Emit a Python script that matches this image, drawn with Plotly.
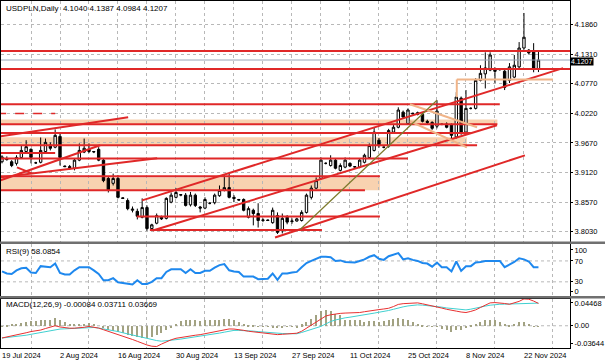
import plotly.graph_objects as go

# ---------------- data ----------------
label_idx = [0, 12, 24, 36, 48, 60, 72, 84, 96, 108]
label_txt = ['19 Jul 2024', '2 Aug 2024', '16 Aug 2024', '30 Aug 2024', '13 Sep 2024',
             '27 Sep 2024', '11 Oct 2024', '25 Oct 2024', '8 Nov 2024', '22 Nov 2024']

opens = [3.932, 3.938, 3.932, 3.929, 3.940, 3.951, 3.955, 3.930, 3.931, 3.951,
         3.963, 3.959, 3.979, 3.924, 3.923, 3.920, 3.935, 3.950, 3.955, 3.950,
         3.955, 3.935, 3.901, 3.892, 3.901, 3.865, 3.860, 3.842, 3.840, 3.829,
         3.847, 3.808, 3.818, 3.829, 3.827, 3.857, 3.866, 3.870, 3.870, 3.852,
         3.870, 3.848, 3.846, 3.855, 3.856, 3.869, 3.879, 3.884, 3.866, 3.862,
         3.862, 3.829, 3.842, 3.836, 3.823, 3.824, 3.819, 3.832, 3.804, 3.829,
         3.821, 3.822, 3.823, 3.838, 3.866, 3.883, 3.901, 3.929, 3.925, 3.935,
         3.916, 3.922, 3.929, 3.922, 3.922, 3.931, 3.940, 3.953, 3.972, 3.959,
         3.961, 3.987, 3.996, 4.024, 4.003, 4.022, 4.023, 4.020, 4.007, 4.005,
         3.998, 4.002, 4.002, 4.000, 3.978, 4.050, 3.987, 4.031, 4.031, 4.083,
         4.095, 4.102, 4.102, 4.103, 4.100, 4.083, 4.089, 4.108, 4.143, 4.139,
         4.137, 4.1040]
highs = [3.944, 3.942, 3.935, 3.944, 3.962, 3.972, 3.957, 3.932, 3.977, 3.975,
         3.968, 3.992, 3.985, 3.925, 3.926, 3.938, 3.966, 3.975, 3.966, 3.952,
         3.959, 3.938, 3.905, 3.910, 3.907, 3.866, 3.864, 3.849, 3.845, 3.864,
         3.851, 3.817, 3.836, 3.832, 3.866, 3.875, 3.883, 3.872, 3.874, 3.876,
         3.873, 3.850, 3.866, 3.857, 3.873, 3.888, 3.907, 3.910, 3.870, 3.863,
         3.864, 3.849, 3.845, 3.855, 3.827, 3.825, 3.847, 3.838, 3.836, 3.833,
         3.827, 3.828, 3.842, 3.873, 3.888, 3.903, 3.940, 3.931, 3.944, 3.937,
         3.929, 3.940, 3.931, 3.924, 3.938, 3.947, 3.966, 3.996, 3.976, 3.960,
         3.993, 4.000, 4.033, 4.027, 4.031, 4.023, 4.025, 4.023, 4.010, 4.007,
         4.046, 4.003, 4.005, 4.003, 4.061, 4.053, 4.065, 4.033, 4.087, 4.111,
         4.135, 4.135, 4.107, 4.104, 4.102, 4.115, 4.130, 4.154, 4.208, 4.141,
         4.152, 4.1387]
lows = [3.929, 3.934, 3.922, 3.925, 3.938, 3.948, 3.929, 3.928, 3.929, 3.948,
        3.953, 3.957, 3.925, 3.922, 3.917, 3.916, 3.933, 3.948, 3.948, 3.948,
        3.933, 3.894, 3.875, 3.888, 3.864, 3.863, 3.842, 3.838, 3.825, 3.827,
        3.804, 3.806, 3.816, 3.824, 3.825, 3.855, 3.864, 3.868, 3.849, 3.849,
        3.848, 3.838, 3.844, 3.853, 3.853, 3.867, 3.877, 3.864, 3.857, 3.860,
        3.840, 3.827, 3.814, 3.810, 3.820, 3.822, 3.817, 3.798, 3.799, 3.816,
        3.817, 3.821, 3.821, 3.836, 3.862, 3.881, 3.899, 3.927, 3.923, 3.918,
        3.914, 3.920, 3.922, 3.920, 3.920, 3.929, 3.938, 3.951, 3.958, 3.957,
        3.958, 3.984, 3.994, 4.012, 4.001, 4.020, 4.018, 4.005, 4.002, 3.991,
        3.994, 4.000, 3.994, 3.976, 3.975, 3.982, 3.984, 4.029, 4.029, 4.081,
        4.068, 4.100, 4.078, 4.101, 4.065, 4.078, 4.087, 4.105, 4.140, 4.131,
        4.098, 4.0984]
closes = [3.941, 3.936, 3.925, 3.940, 3.953, 3.960, 3.940, 3.930, 3.953, 3.968,
          3.957, 3.981, 3.940, 3.923, 3.921, 3.935, 3.953, 3.957, 3.951, 3.951,
          3.935, 3.897, 3.879, 3.901, 3.866, 3.864, 3.845, 3.844, 3.831, 3.847,
          3.808, 3.815, 3.832, 3.826, 3.864, 3.870, 3.875, 3.871, 3.851, 3.870,
          3.851, 3.846, 3.862, 3.855, 3.870, 3.879, 3.884, 3.866, 3.864, 3.861,
          3.842, 3.845, 3.836, 3.823, 3.824, 3.823, 3.842, 3.801, 3.827, 3.820,
          3.822, 3.826, 3.838, 3.870, 3.883, 3.897, 3.935, 3.929, 3.935, 3.920,
          3.925, 3.935, 3.924, 3.923, 3.935, 3.944, 3.962, 3.987, 3.962, 3.959,
          3.990, 3.996, 4.028, 4.015, 4.028, 4.021, 4.020, 4.007, 4.005, 3.994,
          4.026, 4.001, 3.996, 3.981, 4.052, 3.985, 4.031, 4.031, 4.083, 4.096,
          4.106, 4.130, 4.100, 4.103, 4.070, 4.108, 4.111, 4.143, 4.163, 4.134,
          4.106, 4.1207]

rsi = [50, 46, 45, 52, 56, 57, 48, 47, 60, 59, 58, 65, 47, 44, 44, 52, 58, 58, 58, 52,
       45, 33, 33, 37, 29, 28, 26, 25, 33, 26, 26, 30, 37, 37, 49, 54, 54, 54, 47, 54,
       47, 47, 51, 51, 57, 62, 64, 52, 50, 49, 40, 40, 40, 35, 35, 36, 46, 34, 46, 46,
       48, 49, 58, 66, 70, 74, 78, 78, 77, 70, 71, 68, 67, 67, 70, 73, 78, 81, 74, 72,
       79, 82, 85, 73, 75, 72, 70, 66, 65, 59, 67, 58, 58, 50, 69, 51, 60, 60, 67, 68,
       70, 70, 70, 70, 58, 63, 68, 75, 73, 69, 58, 58.0854]

macd_red = [-0.0200, -0.0185, -0.0170, -0.0155, -0.0140, -0.0115, -0.0095, -0.0085, -0.0070, -0.0045,
            -0.0025, 0.0000, -0.0020, -0.0035, -0.0040, -0.0040, -0.0038, -0.0025, -0.0011, -0.0020,
            -0.0038, -0.0065, -0.0090, -0.0115, -0.0140, -0.0165, -0.0195, -0.0225, -0.0255, -0.0290,
            -0.0315, -0.0335, -0.0340, -0.0300, -0.0260, -0.0230, -0.0205, -0.0190, -0.0175, -0.0165,
            -0.0155, -0.0146, -0.0130, -0.0112, -0.0095, -0.0075, -0.0056, -0.0052, -0.0054, -0.0060,
            -0.0075, -0.0090, -0.0100, -0.0110, -0.0118, -0.0125, -0.0135, -0.0145, -0.0140, -0.0135,
            -0.0128, -0.0122, -0.0090, -0.0040, 0.0010, 0.0060, 0.0120, 0.0160, 0.0180, 0.0195,
            0.0203, 0.0208, 0.0210, 0.0213, 0.0217, 0.0230, 0.0245, 0.0258, 0.0265, 0.0275,
            0.0287, 0.0315, 0.0350, 0.0362, 0.0370, 0.0378, 0.0375, 0.0360, 0.0345, 0.0328,
            0.0310, 0.0290, 0.0270, 0.0250, 0.0240, 0.0225, 0.0217, 0.0235, 0.0260, 0.0300,
            0.0340, 0.0375, 0.0380, 0.0378, 0.0365, 0.0352, 0.0370, 0.0400, 0.0440, 0.0435,
            0.0405, 0.03669]
macd_cyan = [-0.0201, -0.0194, -0.0186, -0.0178, -0.0170, -0.0155, -0.0140, -0.0125, -0.0108, -0.0093,
             -0.0080, -0.0066, -0.0054, -0.0050, -0.0045, -0.0040, -0.0034, -0.0028, -0.0022, -0.0028,
             -0.0038, -0.0050, -0.0063, -0.0076, -0.0095, -0.0115, -0.0135, -0.0155, -0.0175, -0.0193,
             -0.0210, -0.0228, -0.0243, -0.0253, -0.0248, -0.0238, -0.0228, -0.0218, -0.0207, -0.0198,
             -0.0187, -0.0176, -0.0165, -0.0150, -0.0135, -0.0120, -0.0105, -0.0090, -0.0076, -0.0076,
             -0.0076, -0.0080, -0.0088, -0.0096, -0.0104, -0.0112, -0.0119, -0.0123, -0.0127, -0.0130,
             -0.0131, -0.0131, -0.0110, -0.0085, -0.0060, -0.0035, -0.0010, 0.0030, 0.0070, 0.0095,
             0.0115, 0.0130, 0.0141, 0.0152, 0.0165, 0.0177, 0.0192, 0.0207, 0.0222, 0.0233,
             0.0250, 0.0270, 0.0295, 0.0310, 0.0325, 0.0338, 0.0342, 0.0338, 0.0332, 0.0325,
             0.0316, 0.0305, 0.0292, 0.0282, 0.0274, 0.0266, 0.0260, 0.0272, 0.0285, 0.0305,
             0.0322, 0.0337, 0.0347, 0.0352, 0.0354, 0.0356, 0.0358, 0.0362, 0.0366, 0.0369,
             0.0371, 0.03711]
macd_hist = [0.0003, 0.0020, 0.0035, 0.0045, 0.0060, 0.0075, 0.0085, 0.0090, 0.0098, 0.0105,
             0.0110, 0.0136, 0.0098, 0.0070, 0.0045, 0.0038, 0.0033, 0.0042, 0.0054, 0.0033,
             0.0000, -0.0035, -0.0060, -0.0080, -0.0100, -0.0115, -0.0135, -0.0160, -0.0175, -0.0190,
             -0.0185, -0.0170, -0.0150, -0.0110, -0.0060, -0.0020, 0.0040, 0.0090, 0.0098, 0.0108,
             0.0100, 0.0085, 0.0095, 0.0098, 0.0100, 0.0108, 0.0120, 0.0125, 0.0105, 0.0075,
             0.0045, 0.0020, 0.0008, -0.0005, -0.0010, -0.0012, -0.0020, -0.0022, -0.0015, -0.0010,
             -0.0008, -0.0022, 0.0030, 0.0070, 0.0125, 0.0179, 0.0255, 0.0260, 0.0258, 0.0206,
             0.0179, 0.0110, 0.0098, 0.0098, 0.0098, 0.0070, 0.0087, 0.0087, 0.0070, 0.0087,
             0.0098, 0.0125, 0.0141, 0.0125, 0.0098, 0.0070, 0.0033, 0.0016, 0.0002, -0.0005,
             -0.0011, -0.0038, -0.0054, -0.0092, -0.0054, -0.0054, -0.0022, 0.0016, 0.0043, 0.0070,
             0.0108, 0.0108, 0.0098, 0.0070, 0.0033, 0.0016, 0.0043, 0.0070, 0.0070, 0.0033,
             0.0002, -0.00084]

price_ticks = [4.1860, 4.1310, 4.0770, 4.0220, 3.9670, 3.9120, 3.8570, 3.8030]
last_price = 4.1207

# horizontal red levels: (price, start bar, end bar)
red_levels = [(4.1373, -1, 118), (4.1040, -1, 118), (4.0387, -1, 103), (4.0015, -1, 102.5),
              (3.9854, -1, 97), (3.9625, -1, 98.3), (3.9482, -1, 11), (3.9378, -1, 84),
              (3.9049, -1, 78.2), (3.8789, -1, 75.1), (3.8305, 27.9, 78.2), (3.8054, 30.6, 66.2)]
dashed_levels = [(4.0214, -1, 11)]
# shaded zones: (low, high, start bar, end bar)
zones = [(4.0015, 4.0103, -1, 102.5), (3.9625, 3.9774, -1, 96.2), (3.8789, 3.9030, -1, 78.2)]
# red trend lines: (bar0, price0, bar1, price1)
red_trends = [(-0.4, 3.9792, 26.1, 4.0146), (29.0, 3.8603, 116.1, 4.1057),
              (31.2, 3.8045, 102.4, 3.9997), (56.5, 3.7915, 108.2, 3.9439),
              (-0.4, 3.9030, 32.1, 3.9383), (-0.4, 3.8974, 20.3, 3.9625),
              (3.1, 3.9216, 6.2, 3.9105)]
olive_trends = [(61.7, 3.8064, 90.0, 4.0462)]
tan_trends = [(84.4, 4.0387, 98.3, 3.9960), (84.4, 4.0071, 96.2, 3.9588),
              (94.1, 4.0847, 114.0, 4.0847), (94.1, 4.0847, 94.1, 4.0517)]

# ---------------- figure ----------------
idx = list(range(len(closes)))
FONT = 'Liberation Sans'
FS = 7.5
RED = '#e02828'
TAN = '#f8d2b0'
GRID = '#b8b8b8'

fig = go.Figure()
fig.add_trace(go.Candlestick(
    x=idx, open=opens, high=highs, low=lows, close=closes,
    increasing=dict(line=dict(color='black', width=1), fillcolor='white'),
    decreasing=dict(line=dict(color='black', width=1), fillcolor='black'),
    whiskerwidth=0, xaxis='x', yaxis='y', showlegend=False))

fig.add_trace(go.Scatter(x=idx, y=rsi, mode='lines', xaxis='x2', yaxis='y2',
                         line=dict(color='#1e88ee', width=2), showlegend=False))

fig.add_trace(go.Bar(x=idx, y=macd_hist, width=0.22, xaxis='x2', yaxis='y3',
                     marker=dict(color='#a2a282', line=dict(width=0)), showlegend=False))
fig.add_trace(go.Scatter(x=idx, y=macd_cyan, mode='lines', xaxis='x2', yaxis='y3',
                         line=dict(color='#40d0d0', width=1), showlegend=False))
fig.add_trace(go.Scatter(x=idx, y=macd_red, mode='lines', xaxis='x2', yaxis='y3',
                         line=dict(color='#e83030', width=1), showlegend=False))

shapes = []
for lo, hi, a, b in zones:
    shapes.append(dict(type='rect', xref='x', yref='y', x0=a, x1=b, y0=lo, y1=hi,
                       fillcolor=TAN, line=dict(width=0), layer='below'))
for p, a, b in red_levels:
    shapes.append(dict(type='line', xref='x', yref='y', x0=a, x1=b, y0=p, y1=p,
                       line=dict(color=RED, width=2)))
for p, a, b in dashed_levels:
    shapes.append(dict(type='line', xref='x', yref='y', x0=a, x1=b, y0=p, y1=p,
                       line=dict(color=RED, width=1.5, dash='dash')))
for a, p0, b, p1 in red_trends:
    shapes.append(dict(type='line', xref='x', yref='y', x0=a, x1=b, y0=p0, y1=p1,
                       line=dict(color=RED, width=2)))
for a, p0, b, p1 in tan_trends:
    shapes.append(dict(type='line', xref='x', yref='y', x0=a, x1=b, y0=p0, y1=p1,
                       line=dict(color='#f0b488', width=2)))
for a, p0, b, p1 in olive_trends:
    shapes.append(dict(type='line', xref='x', yref='y', x0=a, x1=b, y0=p0, y1=p1,
                       line=dict(color='#7d7a2c', width=1.2)))
# bid line
shapes.append(dict(type='line', xref='paper', yref='y', x0=0, x1=1, y0=last_price, y1=last_price,
                   line=dict(color='#9aa6b8', width=1)))
# RSI levels and MACD zero
for lv in (70, 30):
    shapes.append(dict(type='line', xref='paper', yref='y2', x0=0, x1=1, y0=lv, y1=lv,
                       line=dict(color=GRID, width=1, dash='dot'), layer='below'))
shapes.append(dict(type='line', xref='paper', yref='y3', x0=0, x1=1, y0=0, y1=0,
                   line=dict(color=GRID, width=1, dash='dot'), layer='below'))
# panel separators
W, H = 605, 363
ml, mr, mt, mb = 1, 35, 1, 15
pw, ph = W - ml - mr, H - mt - mb
def py(pix):
    return (H - mb - pix) / ph
for top, bot in ((241.5, 244.0), (296.0, 298.5)):
    shapes.append(dict(type='rect', xref='paper', yref='paper', x0=-ml / pw, x1=(W - ml) / pw,
                       y0=py(bot), y1=py(top), fillcolor='#707070', line=dict(width=0)))

ann = []
ann.append(dict(text='USDPLN,Daily  4.1040 4.1387 4.0984 4.1207', xref='paper', yref='paper',
                x=3 / pw, y=1, xanchor='left', yanchor='top', yshift=-1, showarrow=False,
                font=dict(family=FONT, size=8, color='black')))
ann.append(dict(text='RSI(9) 58.0854', xref='paper', yref='paper', x=3 / pw, y=py(245),
                xanchor='left', yanchor='top', showarrow=False,
                font=dict(family=FONT, size=8, color='black')))
ann.append(dict(text='MACD(12,26,9) -0.00084 0.03711 0.03669', xref='paper', yref='paper',
                x=3 / pw, y=py(298), xanchor='left', yanchor='top', showarrow=False,
                font=dict(family=FONT, size=8, color='black')))
for i, t in zip(label_idx, label_txt):
    ann.append(dict(text=t, xref='x2', yref='paper', x=i, y=0, xanchor='left', yanchor='middle',
                    xshift=-2, yshift=-7, showarrow=False,
                    font=dict(family=FONT, size=FS, color='black')))
ann.append(dict(text='4.1207', xref='paper', yref='y', x=1, y=last_price, xanchor='left',
                yanchor='middle', xshift=0, yshift=-1.5, showarrow=False, bgcolor='black',
                borderpad=0, font=dict(family=FONT, size=7, color='white')))

xr = [(1 - 2) / 4.833, (570 - 2) / 4.833]
axis_common = dict(showline=True, linecolor='black', linewidth=1, mirror=True, zeroline=False)
tf = dict(family=FONT, size=FS, color='black')
fig.update_layout(
    width=W, height=H, margin=dict(l=ml, r=mr, t=mt, b=mb),
    paper_bgcolor='white', plot_bgcolor='white', showlegend=False, bargap=0,
    font=dict(family=FONT, size=FS, color='black'),
    xaxis=dict(domain=[0, 1], range=xr, anchor='y', tickvals=list(range(0, 118, 6)),
               showticklabels=False, ticks='', showgrid=True, gridcolor=GRID, griddash='dot',
               rangeslider=dict(visible=False), **axis_common),
    xaxis2=dict(domain=[0, 1], range=xr, anchor='y3', matches='x', tickvals=list(range(6, 118, 12)),
                showticklabels=False, ticks='', showgrid=True, gridcolor=GRID, griddash='dot',
                **axis_common),
    yaxis=dict(domain=[py(241.5), 1], range=[3.78405, 4.23021], side='right', anchor='x',
               tickvals=price_ticks, ticktext=['%.4f' % v for v in price_ticks],
               ticks='outside', ticklen=2, tickcolor='black', showgrid=True, gridcolor=GRID,
               griddash='dot', tickfont=tf, **axis_common),
    yaxis2=dict(domain=[py(297), py(244)], range=[1, 102.4], side='right', anchor='x2',
                tickvals=[91, 70, 30, 11], ticktext=['100', '70', '30', '0'], ticks='outside',
                ticklen=2, tickcolor='black', showgrid=False, tickfont=tf, **axis_common),
    yaxis3=dict(domain=[0, py(298.5)], range=[-0.03644, 0.04468], side='right', anchor='x2',
                tickvals=[0.0375, 0, -0.0296], ticktext=['0.04468', '0.00', '-0.03644'],
                ticks='outside', ticklen=2, tickcolor='black', showgrid=False, tickfont=tf,
                **axis_common),
    shapes=shapes, annotations=ann,
)

fig.write_html('out.html', config={'displayModeBar': False},
               post_script="document.body.style.margin='0';document.body.style.padding='0';")
